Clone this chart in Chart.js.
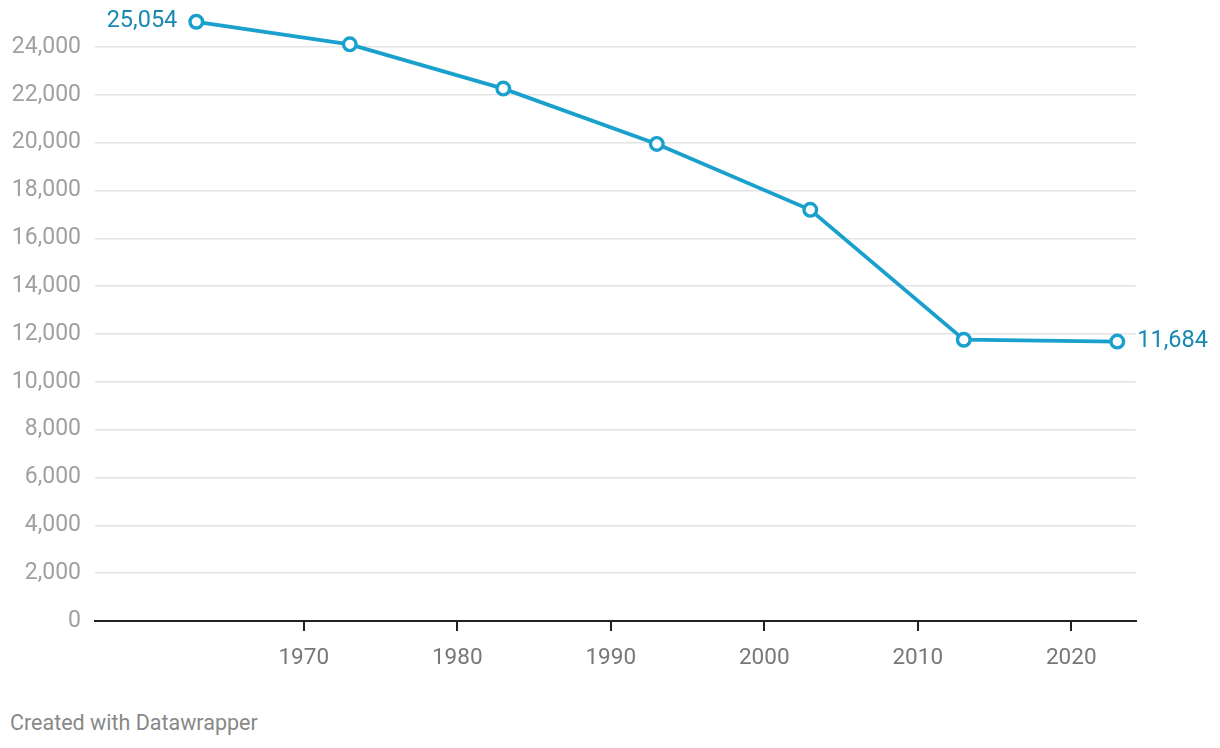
<!DOCTYPE html>
<html lang="en">
<head>
    <meta charset="UTF-8">
    <title>Line chart</title>
    <script src="https://cdn.jsdelivr.net/npm/chart.js"></script>
    <style>
        body { margin: 0; background: #ffffff; }
        .wrap { position: relative; width: 1220px; height: 748px; }
        #chart { position: absolute; left: 0; top: 0; }
        .credit {
            position: absolute;
            left: 10px;
            top: 710px;
            font-family: Roboto, sans-serif;
            font-size: 21.5px;
            color: #888888;
        }
    </style>
</head>
<body>
<div class="wrap">
    <canvas id="chart" width="1220" height="690"></canvas>
    <div class="credit">Created with Datawrapper</div>
</div>

<script>
    // data
    const years = [1963, 1973, 1983, 1993, 2003, 2013, 2023];
    const values = [25054, 24110, 22260, 19945, 17190, 11760, 11684];
    const xTicks = [1970, 1980, 1990, 2000, 2010, 2020];
    const yTicks = [0, 2000, 4000, 6000, 8000, 10000, 12000, 14000, 16000, 18000, 20000, 22000, 24000];

    const lineColor = '#1aa0cc';
    const labelColor = '#1789b2';

    // labels for first and last point
    const endLabels = {
        id: 'endLabels',
        afterDatasetsDraw(chart) {
            const ctx = chart.ctx;
            const pts = chart.getDatasetMeta(0).data;
            const fmt = v => v.toLocaleString('en-US');
            ctx.save();
            ctx.font = '23.5px Roboto';
            ctx.fillStyle = labelColor;
            ctx.textBaseline = 'middle';
            const first = pts[0], last = pts[pts.length - 1];
            ctx.textAlign = 'right';
            ctx.fillText(fmt(values[0]), first.x - 19, first.y - 1);
            ctx.textAlign = 'left';
            ctx.fillText(fmt(values[values.length - 1]), last.x + 20, last.y);
            ctx.restore();
        }
    };

    new Chart(document.getElementById('chart'), {
        type: 'line',
        data: {
            datasets: [{
                data: years.map((y, i) => ({ x: y, y: values[i] })),
                borderColor: lineColor,
                borderWidth: 3.8,
                pointRadius: 6.3,
                pointBorderWidth: 3.4,
                pointBackgroundColor: '#ffffff',
                pointBorderColor: lineColor,
                tension: 0,
                clip: false
            }]
        },
        options: {
            responsive: false,
            animation: false,
            layout: { padding: { top: 11.1, right: 84.3, left: 0, bottom: 0 } },
            plugins: { legend: { display: false }, tooltip: { enabled: false } },
            scales: {
                x: {
                    type: 'linear',
                    min: 1956.4,
                    max: 2024.2,
                    afterBuildTicks: s => { s.ticks = xTicks.map(v => ({ value: v })); },
                    afterFit: s => { s.height = 69; },
                    border: { display: true, color: '#222222', width: 2 },
                    grid: {
                        drawOnChartArea: false,
                        drawTicks: true,
                        tickLength: 10,
                        color: '#222222',
                        lineWidth: 2
                    },
                    ticks: {
                        padding: 14,
                        color: '#777777',
                        font: { family: 'Roboto', size: 22.5 },
                        callback: v => String(v)
                    }
                },
                y: {
                    min: 0,
                    max: 25500,
                    afterBuildTicks: s => { s.ticks = yTicks.map(v => ({ value: v })); },
                    afterFit: s => { s.width = 95; s.paddingTop = 0; s.paddingBottom = 0; },
                    border: { display: false },
                    grid: {
                        drawTicks: false,
                        color: ctx => ctx.tick && ctx.tick.value === 0 ? 'rgba(0,0,0,0)' : '#e3e3e3',
                        lineWidth: 1.5
                    },
                    ticks: {
                        padding: 14,
                        color: '#a0a0a0',
                        font: { family: 'Roboto', size: 23 },
                        callback: v => v.toLocaleString('en-US')
                    }
                }
            }
        },
        plugins: [endLabels]
    });
</script>
</body>
</html>
